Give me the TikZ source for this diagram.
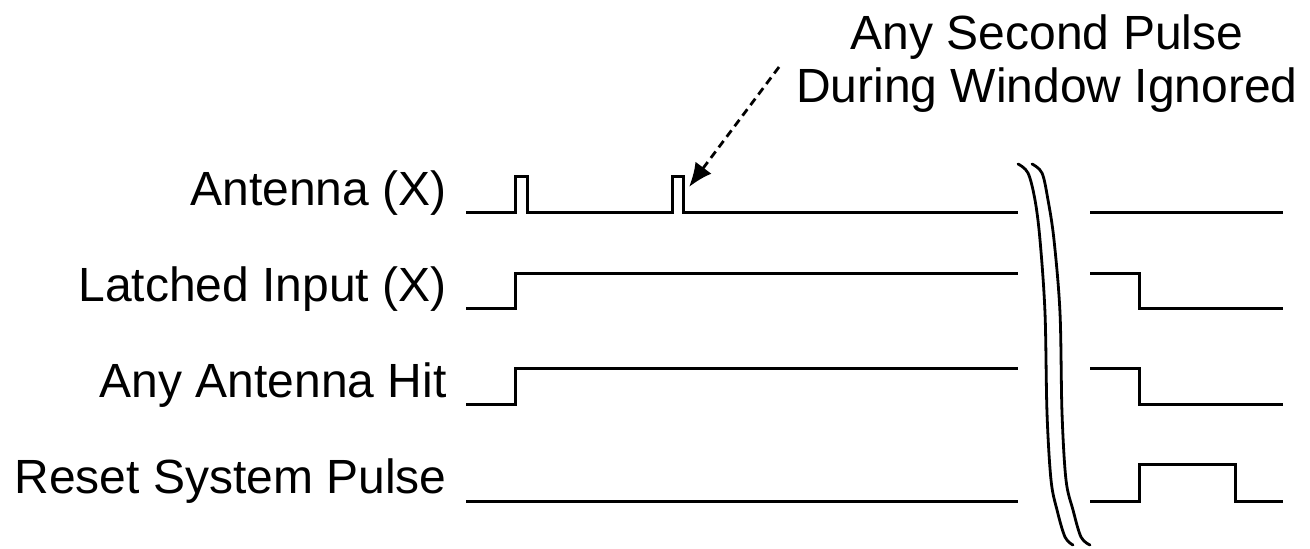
\documentclass[tikz,border=0pt]{standalone}
\usepackage{fontspec}
\setmainfont{Liberation Sans}
\usetikzlibrary{arrows.meta}
\begin{document}
\begin{tikzpicture}[x=0.5pt,y=-0.5pt,
  wave/.style={line width=1.5pt,line join=miter,line cap=butt},
  brk/.style={line width=1.4pt,line cap=round},
  lbl/.style={anchor=base east,inner sep=0pt,font=\fontsize{24}{28}\selectfont},
  note/.style={anchor=base,inner sep=0pt,align=center,font=\fontsize{24}{26.5}\selectfont},
  callout/.style={line width=1.4pt,dash pattern=on 4pt off 2.6pt,-{Latex[length=12pt,width=10pt]}}]
\useasboundingbox (0,0) rectangle (1310,548);
% labels
\node[lbl] (lant) at (447,205) {Antenna (X)};
\node[lbl] (llat) at (447,301) {Latched Input (X)};
\node[lbl] (lany) at (447,397) {Any Antenna Hit};
\node[lbl] (lrst) at (447,493) {Reset System Pulse};
% note
\node[note] (note) at (1047,102) {Any Second Pulse\\During Window Ignored};
\coordinate (arrstart) at (779,67);
\coordinate (pulsetip) at (689,187);
\draw[callout] (arrstart) -- (pulsetip);
% waveforms left
\draw[wave] (466,212) -- (515,212) -- (515,176) -- (527,176) -- (527,212) -- (672,212) -- (672,176) -- (683,176) -- (683,212) -- (1018,212);
\draw[wave] (466,308) -- (515,308) -- (515,273) -- (1018,273);
\draw[wave] (466,404) -- (515,404) -- (515,368) -- (1018,368);
\draw[wave] (466,501) -- (1018,501);
% waveforms right
\draw[wave] (1090,212) -- (1283,212);
\draw[wave] (1090,273) -- (1139,273) -- (1139,308) -- (1283,308);
\draw[wave] (1090,368) -- (1139,368) -- (1139,404) -- (1283,404);
\draw[wave] (1090,501) -- (1139,501) -- (1139,464) -- (1235,464) -- (1235,501) -- (1283,501);
% break marks
\draw[brk] plot[smooth,tension=0.55] coordinates {(1018,164) (1028,173) (1035,200) (1040,240) (1045,313) (1047,413) (1051,480) (1057,510) (1065,537) (1073,545)};
\draw[brk] plot[smooth,tension=0.55] coordinates {(1032,164) (1042,173) (1048,200) (1054,240) (1060,313) (1062,413) (1066,480) (1073,510) (1081,537) (1090,545)};
\end{tikzpicture}
\end{document}
